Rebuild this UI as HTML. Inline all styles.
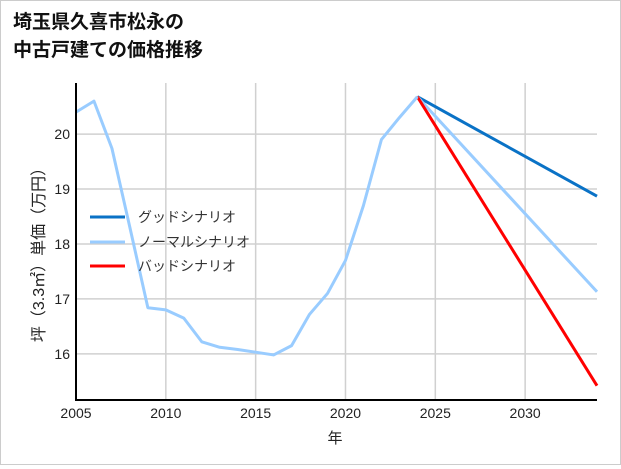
<!DOCTYPE html>
<html><head><meta charset="utf-8"><style>
html,body{margin:0;padding:0;background:#fff}
#wrap{width:619px;height:463px;border:1px solid #ccc;position:relative;font-family:"Liberation Sans","Noto Sans CJK JP",sans-serif}
</style></head><body>
<div id="wrap">
<svg id="chart" width="619" height="463" style="font-family:'Liberation Sans','Noto Sans CJK JP',sans-serif">
<text x="12" y="27" font-size="19" font-weight="bold" fill="#111">埼玉県久喜市松永の</text>
<text x="12" y="55" font-size="19" font-weight="bold" fill="#111">中古戸建ての価格推移</text>
<g id="grid"></g><g id="series"></g><g id="axes"></g>
<text x="334" y="442" font-size="15" text-anchor="middle" fill="#222">年</text>
<text transform="translate(43,250) rotate(-90)" font-size="16" text-anchor="middle" fill="#222">坪（3.3㎡）単価（万円）</text>
<g>
<line x1="89" y1="216" x2="124" y2="216" stroke="#0a72c6" stroke-width="3"/>
<text x="137" y="221" font-size="14" fill="#333">グッドシナリオ</text>
<line x1="89" y1="241" x2="124" y2="241" stroke="#99ccff" stroke-width="3"/>
<text x="137" y="246" font-size="14" fill="#333">ノーマルシナリオ</text>
<line x1="89" y1="265" x2="124" y2="265" stroke="#ff0000" stroke-width="3"/>
<text x="137" y="270" font-size="14" fill="#333">バッドシナリオ</text>
</g>
</svg></div>
<script>
const years=[2005,2006,2007,2008,2009,2010,2011,2012,2013,2014,2015,2016,2017,2018,2019,2020,2021,2022,2023,2024];
const prices=[20.4,20.6,19.74,18.3,16.84,16.8,16.65,16.22,16.12,16.08,16.03,15.98,16.15,16.72,17.1,17.7,18.7,19.9,20.3,20.68];
const scenarioYears=[2024,2034];
const goodValues=[20.68,18.87];
const normalValues=[20.68,17.13];
const badValues=[20.68,15.42];
const xTicks=[2005,2010,2015,2020,2025,2030];
const yTicks=[16,17,18,19,20];
const X0=75,X1=596,Y0=399,Y1=82,xmin=2005,xmax=2034,ymin=15.16,ymax=20.93;
const xs=v=>X0+(v-xmin)/(xmax-xmin)*(X1-X0);
const ys=v=>Y0-(v-ymin)/(ymax-ymin)*(Y0-Y1);
const NS='http://www.w3.org/2000/svg';
function mk(t,a,p){const e=document.createElementNS(NS,t);for(const k in a)e.setAttribute(k,a[k]);p.appendChild(e);return e;}
const grid=document.getElementById('grid'),ser=document.getElementById('series'),ax=document.getElementById('axes');
xTicks.forEach(t=>{const x=xs(t);
const l=mk('line',{x1:x,x2:x,y1:Y1,y2:Y0,stroke:'#d0d0d0','stroke-width':1.5},grid);


const tx=mk('text',{x:x,y:Y0+18,'font-size':14,'text-anchor':'middle',fill:'#222'},ax);tx.textContent=t;

});
yTicks.forEach(t=>{const y=ys(t);
const l=mk('line',{x1:X0,x2:X1,y1:y,y2:y,stroke:'#d0d0d0','stroke-width':1.5},grid);


const tx=mk('text',{x:X0-6,y:y+5,'font-size':14,'text-anchor':'end',fill:'#222'},ax);tx.textContent=t;

});
function line(xv,yv,c,n){const p=mk('polyline',{points:xv.map((x,i)=>xs(x)+','+ys(yv[i])).join(' '),fill:'none',stroke:c,'stroke-width':3,'stroke-linejoin':'round'},ser);

}
line(scenarioYears,goodValues,'#0a72c6','good-scenario-line');
line(scenarioYears,normalValues,'#99ccff','normal-scenario-line');
line(scenarioYears,badValues,'#ff0000','bad-scenario-line');
line(years,prices,'#99ccff','historical-price-line');
const a1=mk('line',{x1:X0,x2:X0,y1:Y1,y2:Y0+1,stroke:'#000','stroke-width':2},ax);


const a2=mk('line',{x1:X0-1,x2:X1,y1:Y0,y2:Y0,stroke:'#000','stroke-width':2},ax);


</script>
</body></html>
